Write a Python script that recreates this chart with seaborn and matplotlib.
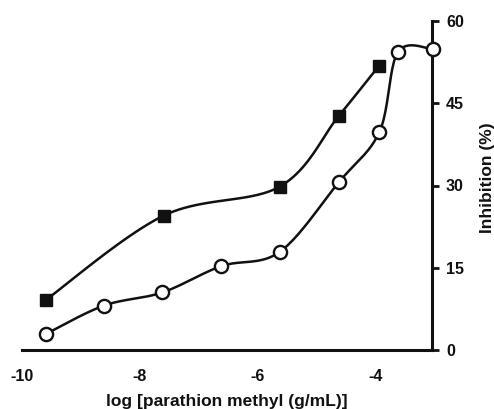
import numpy as np
import matplotlib
matplotlib.use('Agg')
import matplotlib.pyplot as plt
import seaborn as sns

# values
sq_x = [-9.6, -7.6, -5.63, -4.63, -3.95]
sq_y = [9.1, 24.5, 29.8, 42.7, 51.8]

ci_x = [-9.6, -8.61, -7.62, -6.62, -5.63, -4.63, -3.94, -3.63, -3.04]
ci_y = [2.9, 8.1, 10.5, 15.3, 17.9, 30.6, 39.8, 54.3, 54.9]

xticks = [-10, -8, -6, -4]
yticks = [0, 15, 30, 45, 60]


def smooth(xs, ys, sx=59.0, sy=5.48, n=24):
    # catmull-rom through the points, done in pixel-like units
    p = np.column_stack([np.asarray(xs) * sx, np.asarray(ys) * sy])
    p = np.vstack([p[0], p, p[-1]])
    out = []
    t = np.linspace(0, 1, n)[:, None]
    for i in range(1, len(p) - 2):
        p0, p1, p2, p3 = p[i - 1], p[i], p[i + 1], p[i + 2]
        c = 0.5 * ((2 * p1) + (-p0 + p2) * t + (2 * p0 - 5 * p1 + 4 * p2 - p3) * t ** 2
                   + (-p0 + 3 * p1 - 3 * p2 + p3) * t ** 3)
        out.append(c if i == 1 else c[1:])
    c = np.vstack(out)
    return c[:, 0] / sx, c[:, 1] / sy


sns.set_style('white')
plt.rcParams['font.family'] = ['Liberation Sans', 'DejaVu Sans']
plt.rcParams['font.weight'] = 'bold'

fig = plt.figure(figsize=(4.94, 4.09), dpi=100)
ax = fig.add_axes([22 / 494, 1 - 350 / 409, 410 / 494, 329 / 409])

for xs, ys in [(sq_x, sq_y), (ci_x, ci_y)]:
    lx, ly = smooth(xs, ys)
    sns.lineplot(x=lx, y=ly, sort=False, estimator=None, color='#111111', lw=1.8, ax=ax)

ax.plot(sq_x, sq_y, ls='none', marker='s', ms=9, mfc='#111111', mec='#111111', clip_on=False, zorder=5)
ax.plot(ci_x, ci_y, ls='none', marker='o', ms=9.5, mfc='white', mec='#111111', mew=1.7, clip_on=False, zorder=5)

ax.set_xlim(-10, -3.05)
ax.set_ylim(0, 60)
ax.set_xticks(xticks)
ax.set_yticks(yticks)
ax.set_xticklabels([str(v) for v in xticks], fontsize=11.5, fontweight='bold')
ax.set_yticklabels([str(v) for v in yticks], fontsize=11.5, fontweight='bold')

for s in ['left', 'top']:
    ax.spines[s].set_visible(False)
for s in ['bottom', 'right']:
    ax.spines[s].set_linewidth(2.2)
    ax.spines[s].set_color('#111111')

ax.yaxis.tick_right()
ax.yaxis.set_label_position('right')
ax.tick_params(axis='x', direction='in', length=4, width=2, pad=14, colors='#111111')
ax.tick_params(axis='y', direction='out', length=5, width=2, pad=5, colors='#111111')

ax.set_xlabel('log [parathion methyl (g/mL)]', fontsize=12.5, fontweight='bold', color='#111111')
ax.xaxis.set_label_coords(0.50, -0.135)
ax.set_ylabel('Inhibition (%)', fontsize=12.5, fontweight='bold', color='#111111')
ax.yaxis.set_label_coords(1.117, 0.523)

fig.savefig('out.png', dpi=100)
